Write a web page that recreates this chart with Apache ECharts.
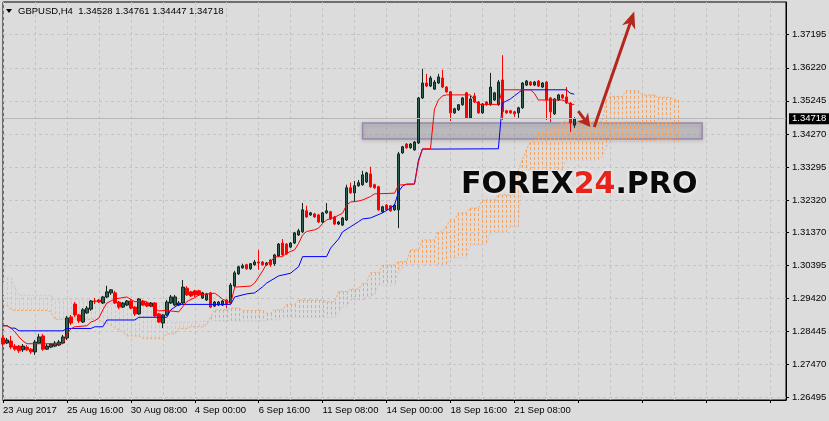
<!DOCTYPE html>
<html><head><meta charset="utf-8">
<script src="https://cdn.jsdelivr.net/npm/echarts@6/dist/echarts.min.js"></script>
<style>html,body{margin:0;padding:0;background:#dcdcdc;}#c{width:829px;height:421px;}</style>
</head><body><div id="c"></div>
<script>
const symbolName = 'GBPUSD,H4';
const lastBar = [1.34528, 1.34761, 1.34447, 1.34718]; // O H L C
const timeLabels = ['23 Aug 2017','25 Aug 16:00','30 Aug 08:00','4 Sep 00:00','6 Sep 16:00','11 Sep 08:00','14 Sep 00:00','18 Sep 16:00','21 Sep 08:00'];
const barsPerLabel = 16;
const totalSlots = 197;
const priceTicks = [1.26495,1.27470,1.28445,1.29420,1.30395,1.31370,1.32320,1.33295,1.34270,1.35245,1.36220,1.37195];

// [open, close, low, high]
const ohlc = [
[1.2825,1.2807,1.2801,1.2831],[1.2810,1.2819,1.2807,1.2825],[1.2816,1.2798,1.2792,1.2831],[1.2801,1.2792,1.2787,1.2807],
[1.2801,1.2787,1.2781,1.2804],[1.2790,1.2801,1.2784,1.2807],[1.2798,1.2790,1.2787,1.2804],[1.2792,1.2784,1.2778,1.2795],
[1.2784,1.2813,1.2775,1.2819],[1.2810,1.2828,1.2807,1.2837],[1.2831,1.2792,1.2787,1.2837],[1.2792,1.2801,1.2790,1.2807],
[1.2798,1.2807,1.2795,1.2810],[1.2801,1.2810,1.2798,1.2816],[1.2804,1.2813,1.2801,1.2819],[1.2810,1.2828,1.2807,1.2834],
[1.2825,1.2884,1.2819,1.2890],[1.2887,1.2869,1.2863,1.2893],[1.2925,1.2893,1.2887,1.2931],[1.2893,1.2875,1.2869,1.2896],
[1.2872,1.2908,1.2869,1.2913],[1.2899,1.2913,1.2896,1.2919],[1.2910,1.2934,1.2905,1.2937],[1.2934,1.2933,1.2925,1.2943],
[1.2937,1.2931,1.2928,1.2940],[1.2928,1.2946,1.2925,1.2949],[1.2946,1.2961,1.2943,1.2979],[1.2958,1.2967,1.2952,1.2969],
[1.2958,1.2928,1.2925,1.2964],[1.2931,1.2916,1.2910,1.2934],[1.2916,1.2928,1.2913,1.2931],[1.2922,1.2934,1.2919,1.2937],
[1.2934,1.2913,1.2910,1.2940],[1.2916,1.2896,1.2890,1.2919],[1.2896,1.2940,1.2893,1.2943],[1.2934,1.2922,1.2919,1.2937],
[1.2928,1.2919,1.2916,1.2931],[1.2919,1.2928,1.2916,1.2931],[1.2928,1.2890,1.2887,1.2931],[1.2896,1.2872,1.2869,1.2899],
[1.2869,1.2893,1.2854,1.2896],[1.2893,1.2931,1.2890,1.2937],[1.2928,1.2946,1.2925,1.2952],[1.2922,1.2946,1.2919,1.2952],
[1.2922,1.2928,1.2919,1.2934],[1.2928,1.2975,1.2925,1.2996],[1.2972,1.2952,1.2949,1.2978],[1.2961,1.2949,1.2946,1.2964],
[1.2964,1.2952,1.2946,1.2967],[1.2964,1.2952,1.2949,1.2967],[1.2943,1.2958,1.2940,1.2961],[1.2937,1.2955,1.2934,1.2958],
[1.2958,1.2916,1.2913,1.2961],[1.2919,1.2931,1.2916,1.2934],[1.2922,1.2931,1.2919,1.2934],[1.2922,1.2934,1.2919,1.2937],
[1.2937,1.2925,1.2913,1.2940],[1.2928,1.2981,1.2925,1.2987],[1.2978,1.3017,1.2975,1.3023],[1.3014,1.3035,1.3011,1.3038],
[1.3032,1.3038,1.3029,1.3044],[1.3041,1.3029,1.3026,1.3044],[1.3029,1.3044,1.3026,1.3046],[1.3041,1.3049,1.3038,1.3055],
[1.3049,1.3046,1.3026,1.3085],[1.3049,1.3041,1.3038,1.3052],[1.3041,1.3046,1.3038,1.3049],[1.3055,1.3041,1.3035,1.3058],
[1.3044,1.3070,1.3038,1.3073],[1.3067,1.3102,1.3064,1.3105],[1.3105,1.3070,1.3067,1.3117],[1.3102,1.3073,1.3070,1.3105],
[1.3093,1.3105,1.3090,1.3108],[1.3105,1.3135,1.3102,1.3138],[1.3129,1.3141,1.3126,1.3147],[1.3138,1.3203,1.3135,1.3223],
[1.3200,1.3182,1.3179,1.3215],[1.3188,1.3194,1.3185,1.3197],[1.3191,1.3182,1.3179,1.3194],[1.3188,1.3167,1.3164,1.3191],
[1.3167,1.3194,1.3164,1.3197],[1.3194,1.3200,1.3191,1.3223],[1.3197,1.3176,1.3173,1.3200],[1.3182,1.3161,1.3158,1.3185],
[1.3161,1.3167,1.3158,1.3170],[1.3158,1.3179,1.3155,1.3182],[1.3173,1.3268,1.3170,1.3277],[1.3268,1.3253,1.3250,1.3283],
[1.3253,1.3274,1.3226,1.3288],[1.3274,1.3283,1.3271,1.3291],[1.3277,1.3306,1.3274,1.3318],[1.3285,1.3312,1.3282,1.3315],
[1.3309,1.3271,1.3268,1.3330],[1.3277,1.3268,1.3265,1.3280],[1.3271,1.3203,1.3200,1.3274],[1.3197,1.3212,1.3194,1.3215],
[1.3217,1.3203,1.3200,1.3220],[1.3215,1.3200,1.3197,1.3217],[1.3203,1.3217,1.3200,1.3220],[1.3203,1.3368,1.3149,1.3374],
[1.3371,1.3389,1.3368,1.3392],[1.3397,1.3386,1.3383,1.3400],[1.3386,1.3397,1.3383,1.3400],[1.3380,1.3403,1.3377,1.3406],
[1.3400,1.3533,1.3397,1.3536],[1.3533,1.3577,1.3530,1.3619],[1.3577,1.3568,1.3565,1.3604],[1.3568,1.3592,1.3565,1.3598],
[1.3559,1.3580,1.3557,1.3586],[1.3577,1.3595,1.3574,1.3604],[1.3592,1.3565,1.3562,1.3616],[1.3565,1.3551,1.3548,1.3568],
[1.3551,1.3489,1.3465,1.3554],[1.3489,1.3501,1.3486,1.3504],[1.3498,1.3513,1.3495,1.3515],[1.3513,1.3533,1.3510,1.3536],
[1.3548,1.3474,1.3471,1.3551],[1.3474,1.3530,1.3471,1.3539],[1.3539,1.3521,1.3518,1.3548],[1.3521,1.3489,1.3486,1.3524],
[1.3489,1.3515,1.3486,1.3518],[1.3521,1.3513,1.3510,1.3524],[1.3513,1.3565,1.3510,1.3607],[1.3527,1.3548,1.3524,1.3551],
[1.3513,1.3580,1.3510,1.3586],[1.3586,1.3492,1.3468,1.3659],[1.3495,1.3489,1.3486,1.3498],[1.3495,1.3489,1.3486,1.3498],
[1.3492,1.3486,1.3477,1.3495],[1.3489,1.3504,1.3474,1.3507],[1.3504,1.3577,1.3501,1.3580],[1.3571,1.3583,1.3568,1.3586],
[1.3580,1.3571,1.3568,1.3583],[1.3571,1.3580,1.3568,1.3583],[1.3583,1.3568,1.3565,1.3586],[1.3565,1.3577,1.3562,1.3580],
[1.3580,1.3527,1.3468,1.3583],[1.3533,1.3492,1.3462,1.3536],[1.3486,1.3530,1.3483,1.3533],[1.3527,1.3542,1.3524,1.3545],
[1.3542,1.3533,1.3530,1.3545],[1.3536,1.3518,1.3515,1.3565],[1.3518,1.3459,1.3433,1.3521],[1.34528,1.34718,1.34447,1.34761]
];

// Tenkan-sen (red) and Kijun-sen (blue), read as [bar, price] corners
const tenkan = [[0,1.2861],[1,1.2861],[2,1.2854],[3,1.2843],[4,1.2828],[5,1.2816],[6,1.2808],[15,1.2808],[16,1.2837],[17,1.2852],[18,1.2858],[21,1.2861],[22,1.2872],[23,1.2876],[24,1.2884],[25,1.2908],[26,1.2928],[28,1.2940],[31,1.2946],[32,1.2939],[33,1.2932],[36,1.2932],[37,1.2922],[38,1.2912],[39,1.2905],[41,1.2906],[44,1.2902],[45,1.2917],[46,1.2932],[48,1.2944],[49,1.2952],[53,1.2957],[54,1.2949],[55,1.2939],[56,1.2934],[57,1.2927],[58,1.2975],[62,1.2978],[63,1.2987],[64,1.3005],[65,1.3023],[66,1.3044],[67,1.3050],[68,1.3064],[70,1.3065],[71,1.3075],[73,1.3085],[74,1.3104],[75,1.3129],[76,1.3139],[78,1.3144],[79,1.3149],[80,1.3163],[81,1.3173],[83,1.3181],[85,1.3193],[86,1.3217],[87,1.3226],[89,1.3229],[90,1.3232],[92,1.3242],[93,1.3250],[98,1.3252],[99,1.3276],[103,1.3279],[104,1.3344],[105,1.3383],[107,1.3383],[108,1.3500],[109,1.3527],[110,1.3539],[111,1.3542],[117,1.3542],[118,1.3527],[119,1.3514],[124,1.3514],[125,1.3557],[132,1.3557],[133,1.3547],[134,1.3527],[140,1.3527],[141,1.3522],[142,1.3514],[143,1.3514]];
const kijun = [[0,1.2861],[1,1.2861],[2,1.2854],[3,1.2854],[4,1.2846],[15,1.2846],[16,1.2853],[22,1.2853],[23,1.2858],[25,1.2858],[26,1.2878],[33,1.2878],[34,1.2886],[41,1.2886],[42,1.2908],[44,1.2924],[57,1.2924],[58,1.2946],[61,1.2955],[63,1.2958],[64,1.2967],[65,1.2976],[66,1.2987],[69,1.3008],[72,1.3016],[73,1.3026],[74,1.3035],[75,1.3065],[81,1.3065],[82,1.3090],[84,1.3117],[85,1.3138],[87,1.3153],[89,1.3168],[90,1.3176],[92,1.3179],[95,1.3194],[97,1.3208],[98,1.3217],[99,1.3256],[100,1.3273],[101,1.3279],[103,1.3279],[104,1.3350],[105,1.3382],[124,1.3383],[125,1.3518],[126,1.3524],[127,1.3530],[128,1.3539],[129,1.3548],[130,1.3557],[141,1.3557],[142,1.3547],[143,1.3544]];

// Senkou span A / B, one value per bar (shifted 26 bars ahead)
const spanA = [
1.2922,1.2922,1.2909,1.2906,1.2906,1.2906,1.2906,1.2906,1.2906,1.2906,1.2906,1.2906,1.2902,
1.2880,1.2880,1.2880,1.2880,1.2880,1.2880,1.2880,1.2880,1.2880,1.2880,1.2880,1.2880,
1.2868,1.2868,1.2863,1.2854,1.2849,1.2841,1.2831,1.2831,1.2831,1.2831,
1.2824,1.2824,1.2824,1.2824,1.2824,1.2824,1.2837,1.2837,1.2837,1.2853,1.2853,1.2853,
1.2858,1.2858,1.2858,1.2858,1.2866,1.2888,1.2908,1.2908,1.2908,1.2908,1.2913,1.2913,1.2913,
1.2906,1.2906,1.2906,1.2906,1.2906,1.2906,1.2898,1.2898,1.2908,1.2908,1.2908,1.2924,1.2924,1.2924,
1.2937,1.2937,1.2937,1.2937,1.2937,1.2937,1.2937,1.2932,1.2932,1.2932,1.2962,1.2962,1.2962,
1.2969,1.2969,1.2969,1.2986,1.2986,1.3018,1.3018,1.3018,1.3040,1.3040,1.3040,1.3040,
1.3050,1.3050,1.3050,1.3085,1.3085,1.3085,1.3114,1.3114,1.3114,1.3114,1.3138,1.3138,1.3155,
1.3173,1.3173,1.3194,1.3194,1.3194,1.3208,1.3208,1.3208,1.3232,1.3232,1.3232,1.3232,
1.3247,1.3247,1.3247,1.3247,1.3247,1.3321,1.3350,1.3380,1.3403,1.3403,1.3433,1.3433,1.3433,
1.3447,1.3447,1.3447,1.3463,1.3463,1.3463,1.3463,1.3463,1.3463,1.3463,1.3463,1.3463,1.3463,1.3463,
1.3527,1.3537,1.3537,1.3537,1.3537,1.3554,1.3554,1.3554,1.3554,1.3542,1.3542,1.3542,1.3542,
1.3535,1.3535,1.3535,1.3535,1.3527,1.3527
];
const spanB = [
1.3002,1.3002,1.3002,1.2973,1.2951,1.2951,1.2951,1.2951,1.2951,1.2951,1.2951,1.2951,1.2951,
1.2937,1.2937,1.2937,1.2937,1.2937,1.2937,1.2937,1.2937,1.2937,1.2937,1.2937,1.2937,
1.2929,1.2929,1.2929,1.2929,1.2929,1.2929,1.2929,1.2929,1.2929,1.2929,1.2929,1.2929,1.2929,1.2929,1.2929,1.2929,
1.2890,1.2872,1.2872,1.2872,1.2872,1.2872,1.2872,1.2872,1.2872,
1.2875,1.2875,1.2875,1.2875,1.2875,1.2875,1.2875,1.2875,1.2875,1.2875,1.2875,1.2875,1.2875,1.2875,1.2875,1.2875,
1.2878,1.2878,1.2878,1.2878,
1.2886,1.2886,1.2886,1.2886,1.2886,1.2886,1.2886,1.2886,1.2886,1.2886,1.2886,1.2886,1.2886,1.2886,
1.2902,1.2917,1.2917,1.2937,1.2937,1.2937,1.2937,1.2947,1.2947,1.2955,
1.2981,1.2981,1.2981,1.2981,1.2981,1.3020,1.3032,
1.3042,1.3042,1.3042,1.3042,1.3042,1.3042,1.3042,1.3042,1.3042,1.3042,1.3042,
1.3061,1.3061,1.3061,1.3061,1.3061,1.3100,1.3100,1.3100,1.3100,1.3100,
1.3138,1.3138,1.3138,1.3138,1.3138,1.3153,1.3153,1.3153,1.3312,
1.3321,1.3321,1.3321,1.3321,1.3321,1.3321,1.3321,1.3321,1.3321,1.3321,
1.3350,1.3350,1.3350,1.3350,1.3350,1.3350,1.3350,1.3350,1.3350,1.3359,1.3388,
1.3404,1.3404,1.3404,1.3404,1.3404,1.3404,1.3404,1.3404,1.3404,1.3404,1.3404,1.3404,1.3404,1.3404,1.3404,1.3404,1.3404,1.3404
];

// drawn objects, anchored in [bar, price]
const supportZone = [[90, 1.3459], [175, 1.3412]];
const arrowUp = [[147.5, 1.3447], [158, 1.3788]];
const arrowDown = [[143.5, 1.3494], [147.25, 1.3447]];

const FONT = "'Liberation Sans',Arial,sans-serif";
const categories = Array.from({length: totalSlots}, (_, i) => String(i));

const chart = echarts.init(document.getElementById('c'), null, {renderer: 'canvas'});
const option = {
  animation: false,
  backgroundColor: '#dcdcdc',
  grid: {left: 3, right: 43, top: 2, bottom: 21, show: true, borderColor: '#000', borderWidth: 1,
    containLabel: false, outerBoundsMode: 'none'},
  xAxis: {
    type: 'category', data: categories, boundaryGap: false,
    axisLine: {lineStyle: {color: '#000'}},
    axisTick: {interval: barsPerLabel - 1, length: 3, lineStyle: {color: '#000'}},
    axisLabel: {interval: barsPerLabel - 1, align: 'left', margin: 5, color: '#000', fontSize: 9.5, fontFamily: FONT,
      formatter: (v, i) => (i % barsPerLabel === 0 ? (timeLabels[i / barsPerLabel] || '') : '')},
    splitLine: {show: true, interval: 7, lineStyle: {color: '#c4c4c4', type: [3, 3]}}
  },
  yAxis: {
    type: 'value', position: 'right', min: 1.2642, max: 1.3816,
    axisLine: {show: true, lineStyle: {color: '#000'}},
    axisTick: {show: true, customValues: priceTicks, length: 3, lineStyle: {color: '#000'}},
    axisLabel: {customValues: priceTicks, formatter: v => v.toFixed(5), color: '#000', fontSize: 9.5, fontFamily: FONT, margin: 6},
    splitLine: {show: true, lineStyle: {color: '#c4c4c4', type: [3, 3]}}
  },
  series: [
    {
      type: 'custom', name: 'cloud', z: 1, silent: true,
      data: spanA.map((a, i) => [i, a, spanB[i]]),
      encode: {x: 0, y: [1, 2]},
      renderItem: (params, api) => {
        const i = api.value(0), a = api.value(1), b = api.value(2);
        const p1 = api.coord([i, a]), p2 = api.coord([i, b]);
        const x = Math.round(p1[0]) + 0.5;
        return {type: 'line', shape: {x1: x, y1: p1[1], x2: x, y2: p2[1]},
          style: {stroke: a >= b ? '#f4a460' : '#d8bfd8', lineWidth: 1, lineDash: [3, 2]}};
      }
    },
    {type: 'line', name: 'Senkou A', data: spanA, z: 1, symbol: 'none', silent: true,
      lineStyle: {color: '#f4a460', width: 1, type: [2, 2]}},
    {type: 'line', name: 'Senkou B', data: spanB, z: 1, symbol: 'none', silent: true,
      lineStyle: {color: '#d8bfd8', width: 1, type: [2, 2]}},
    {
      type: 'candlestick', name: symbolName, data: ohlc, z: 3, barWidth: 3, silent: true,
      itemStyle: {color: '#2e5e4e', color0: '#ff0000', borderColor: '#14241f', borderColor0: '#ff0000', borderWidth: 1}
    },
    {type: 'line', name: 'Kijun', data: kijun, z: 4, symbol: 'none', silent: true, lineStyle: {color: '#0000ff', width: 1}},
    {type: 'line', name: 'Tenkan', data: tenkan, z: 5, symbol: 'none', silent: true, lineStyle: {color: '#ff0000', width: 1}},
    {
      type: 'line', name: 'zone', data: [], z: 8, silent: true,
      markArea: {silent: true,
        itemStyle: {color: 'rgba(140,140,152,0.3)', borderColor: '#9a88aa', borderWidth: 1.5,
          shadowBlur: 4, shadowColor: 'rgba(0,0,0,0.2)', shadowOffsetY: 1},
        data: [[{coord: supportZone[0]}, {coord: supportZone[1]}]]}
    },
    {
      type: 'line', name: 'bid', data: [], z: 2, silent: true,
      markLine: {
        silent: true, symbol: 'none', animation: false, precision: 5,
        lineStyle: {color: '#b8b8b8', type: 'solid', width: 1},
        label: {position: 'end', distance: 3, formatter: p => Number(p.value).toFixed(5), color: '#fff', backgroundColor: '#000',
          padding: [1, 3, 0, 3], fontSize: 9.5, fontFamily: FONT},
        data: [{yAxis: lastBar[3]}]
      }
    }
  ]
};
chart.setOption(option);

const toPx = p => chart.convertToPixel({xAxisIndex: 0, yAxisIndex: 0}, p);
const ARROW = '#b3271d';
function arrow(fromD, toD, headLen, headHalf, width) {
  const a = toPx(fromD), b = toPx(toD);
  const dx = b[0] - a[0], dy = b[1] - a[1], L = Math.hypot(dx, dy);
  const ux = dx / L, uy = dy / L, px = -uy, py = ux;
  const base = [b[0] - ux * headLen, b[1] - uy * headLen];
  const notch = [b[0] - ux * headLen * 0.7, b[1] - uy * headLen * 0.7];
  return [
    {type: 'line', z: 20, shape: {x1: a[0], y1: a[1], x2: notch[0], y2: notch[1]}, style: {stroke: ARROW, lineWidth: width}},
    {type: 'polygon', z: 20, shape: {points: [b, [base[0] + px * headHalf, base[1] + py * headHalf], notch, [base[0] - px * headHalf, base[1] - py * headHalf]]},
      style: {fill: ARROW}}
  ];
}

const graphics = [
  {type: 'polygon', z: 20, shape: {points: [[6, 9], [12, 9], [9, 13]]}, style: {fill: '#000'}},
  {type: 'text', z: 20, left: 18, top: 6, style: {text: symbolName + '  ' + lastBar.map(v => v.toFixed(5)).join(' '),
    fill: '#000', font: '9.5px ' + FONT}},
  {type: 'text', z: 15, left: 461, top: 170, style: {
    text: '{a|FOREX}{b|24}{a|.PRO}',
    rich: {
      a: {fill: '#0a0a0a', fontSize: 30, fontWeight: 'bold', fontFamily: "'DejaVu Sans',sans-serif",
        textShadowColor: 'rgba(255,255,255,0.95)', textShadowBlur: 4},
      b: {fill: '#e8231a', fontSize: 30, fontWeight: 'bold', fontFamily: "'DejaVu Sans',sans-serif",
        textShadowColor: 'rgba(255,255,255,0.95)', textShadowBlur: 4}
    }
  }}
].concat(arrow(arrowUp[0], arrowUp[1], 17, 7, 3), arrow(arrowDown[0], arrowDown[1], 13, 7, 3));
chart.setOption({graphic: graphics});
</script>
</body></html>
